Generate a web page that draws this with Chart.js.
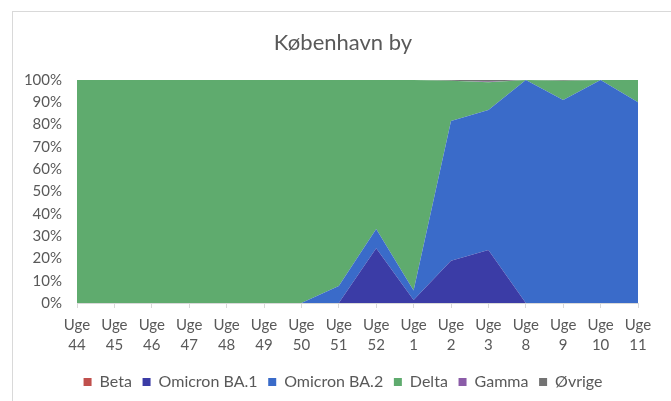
<!DOCTYPE html>
<html>
<head>
<meta charset="utf-8">
<script src="https://cdn.jsdelivr.net/npm/chart.js@4"></script>
<style>
  html, body { margin: 0; padding: 0; background: #ffffff; overflow: hidden; }
  #wrap { position: relative; width: 671px; height: 401px; }
  #frame { position: absolute; left: 12px; top: 11px; width: 720px; height: 500px; border: 1px solid #D9D9D9; box-sizing: border-box; }
  #c { position: absolute; left: 0; top: 0; }
</style>
</head>
<body>
<div id="wrap">
  <div id="frame"></div>
  <canvas id="c" width="671" height="401"></canvas>
</div>
<script>
const weeks = ['44','45','46','47','48','49','50','51','52','1','2','3','8','9','10','11'];
const categories = weeks.map(w => ['Uge', w]);
const beta      = [0,0,0,0,0,0,0,0,0,0,0,0,0,0,0,0];
const omicronBA1 = [0,0,0,0,0,0,0,0,24.5,1.3,19.0,23.8,0,0,0,0];
const omicronBA2 = [0,0,0,0,0,0,0,7.6,8.7,4.3,62.6,62.7,100,91.0,100,90.0];
const delta     = [100,100,100,100,100,100,100,92.4,66.8,94.4,18.1,12.5,0,8.7,0,10.0];
const gamma     = [0,0,0,0,0,0,0,0,0,0,0,0.2,0,0,0,0];
const ovrige    = [0,0,0,0,0,0,0,0,0,0,0.3,0.8,0,0.3,0,0];
const yTicks = [0,10,20,30,40,50,60,70,80,90,100];

const FONT = 'Lato, "Open Sans", sans-serif';
const TXT = '#595959';

function ds(label, data, color, fill) {
  return { label, data, backgroundColor: color, borderColor: color, borderWidth: 0,
           pointRadius: 0, pointHoverRadius: 0, fill, tension: 0 };
}

const unclipY = {
  id: 'unclipY',
  afterLayout(chart) { chart.scales.y.left = 0; }
};

new Chart(document.getElementById('c'), {
  type: 'line',
  data: {
    labels: categories,
    datasets: [
      ds('Beta', beta, '#C0504D', 'origin'),
      ds('Omicron BA.1', omicronBA1, '#3B3CA6', '-1'),
      ds('Omicron BA.2', omicronBA2, '#3A6BC9', '-1'),
      ds('Delta', delta, '#5FAB6E', '-1'),
      ds('Gamma', gamma, '#8B5CA8', '-1'),
      ds('Øvrige', ovrige, '#737373', '-1')
    ]
  },
  plugins: [unclipY],
  options: {
    responsive: false,
    animation: false,
    devicePixelRatio: 1,
    layout: { padding: { left: 48, right: 33, top: 0, bottom: 1 } },
    plugins: {
      tooltip: { enabled: false },
      title: {
        display: true, text: 'København by', color: TXT,
        font: { family: FONT, size: 22, weight: 'normal', lineHeight: 1.2 },
        padding: { top: 29.8, bottom: 23.8 }
      },
      legend: {
        position: 'bottom',
        labels: {
          boxWidth: 8, boxHeight: 8, padding: 10.7, color: TXT,
          font: { family: FONT, size: 16 }
        }
      }
    },
    scales: {
      x: {
        stacked: true,
        offset: false,
        grid: { display: true, drawOnChartArea: false, drawTicks: true, tickLength: 5, color: '#D9D9D9' },
        border: { display: true, color: '#D9D9D9' },
        ticks: { color: TXT, font: { family: FONT, size: 15, lineHeight: 1.33 }, padding: 7,
                 maxRotation: 0, autoSkip: false },
        afterFit: s => { s.height = 60.3; }
      },
      y: {
        stacked: true,
        min: 0, max: 100,
        grid: { display: false, drawTicks: false },
        border: { display: false },
        afterBuildTicks: s => { s.ticks = yTicks.map(v => ({ value: v })); },
        ticks: { color: TXT, font: { family: FONT, size: 15 }, padding: 15,
                 callback: v => v + '%' },
        afterFit: s => { s.width = 29; }
      }
    }
  }
});
</script>
</body>
</html>
